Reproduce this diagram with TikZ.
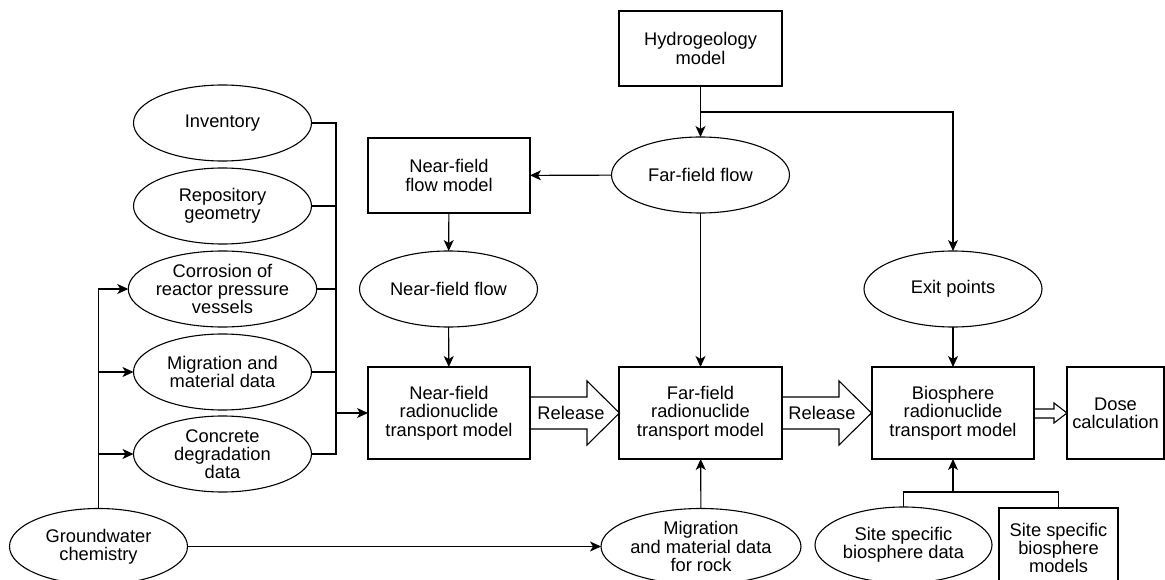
\documentclass[tikz,border=0pt]{standalone}
\usepackage{fontspec}
\setmainfont{Liberation Sans}
\usetikzlibrary{shapes.geometric,arrows.meta}
\begin{document}
\begin{tikzpicture}[x=1pt,y=-1pt, line width=1.1pt, line join=miter,
 every node/.style={font=\fontsize{18.3}{18.3}\selectfont, align=center, inner sep=0pt, outer sep=0pt},
 ell/.style={draw, ellipse, minimum width=178pt, minimum height=76pt},
 box/.style={draw, rectangle, minimum width=162pt, minimum height=92pt},
 arr/.style={-{Stealth[length=11pt,width=10pt,inset=3pt]}}]
\useasboundingbox (0,0) rectangle (1165,580);

% left column
\node[ell] (inv) at (222.5,123) {Inventory};
\node[ell] (geo) at (222.5,206) {Repository\\geometry};
\node[ell] (cor) at (222.5,289) {Corrosion of\\reactor pressure\\vessels};
\node[ell] (mig) at (222.5,372) {Migration and\\material data};
\node[ell] (con) at (222.5,454) {Concrete\\degradation\\data};
\node[ell] (gw) at (98.5,546.5) {Groundwater\\chemistry};

% middle and right
\node[box, minimum width=163pt, minimum height=75pt] (hyd) at (700.5,48.5) {Hydrogeology\\model};
\node[ell] (fff) at (700.5,175) {Far-field flow};
\node[box, minimum height=75pt] (nfm) at (449,175.5) {Near-field\\flow model};
\node[ell] (nff) at (448.5,289) {Near-field flow};
\node[box] (nrt) at (449,413) {Near-field\\radionuclide\\transport model};
\node[box, minimum width=163pt] (frt) at (700.5,413) {Far-field\\radionuclide\\transport model};
\node[box] (bio) at (953,413) {Biosphere\\radionuclide\\transport model};
\node[box, minimum width=97pt] (dose) at (1115.5,413) {Dose\\calculation};
\node[ell] (exit) at (953,289) {Exit points};
\node[ell] (mrk) at (701,546.5) {Migration\\and material data\\for rock};
\node[ell, minimum width=177pt] (ssd) at (903.5,545) {Site specific\\biosphere data};
\node[box, minimum width=119pt, minimum height=80pt] (ssm) at (1058.5,548) {Site specific\\biosphere\\models};

% release labels
\node (rel1) at (571,413) {Release};
\node (rel2) at (822,413) {Release};

% connectors top
\coordinate (br) at (700.5,112);
\draw[arr] (hyd) -- (fff);
\draw[arr] (br) -| (exit.north);
\draw[arr] (fff) -- (nfm);
\draw[arr] (nfm) -- (nff);
\draw[arr] (nff) -- (nrt);
\draw[arr] (fff) -- (frt);
\draw[arr] (exit) -- (bio);
\draw[arr] (mrk) -- (frt);
\draw[arr] (gw.east) -- (mrk.west);

% left bus
\draw[arr] (gw.north) |- (cor.west);
\draw[arr] (gw.north |- mig.west) -- (mig.west);
\draw[arr] (gw.north |- con.west) -- (con.west);

% right bus
\coordinate (rb) at (336,413);
\draw (inv.east) -- (inv.east -| rb) -- (con.east -| rb) -- (con.east);
\draw (geo.east) -- (geo.east -| rb);
\draw (cor.east) -- (cor.east -| rb);
\draw (mig.east) -- (mig.east -| rb);
\draw[arr] (rb) -- (nrt.west);

% biosphere inputs
\coordinate (bj) at (953,492);
\draw (ssd.north) |- (ssm.north |- bj) -- (ssm.north);
\draw[arr] (bj) -- (bio.south);

% block arrows
\draw (530,397) -- (587,397) -- (587,381) -- (619.5,413) -- (587,445) -- (587,429) -- (530,429);
\draw (782,397) -- (839,397) -- (839,381) -- (871.5,413) -- (839,445) -- (839,429) -- (782,429);
\draw (1034,409) -- (1054,409) -- (1054,403) -- (1067,413) -- (1054,423) -- (1054,418) -- (1034,418);
\end{tikzpicture}
\end{document}
